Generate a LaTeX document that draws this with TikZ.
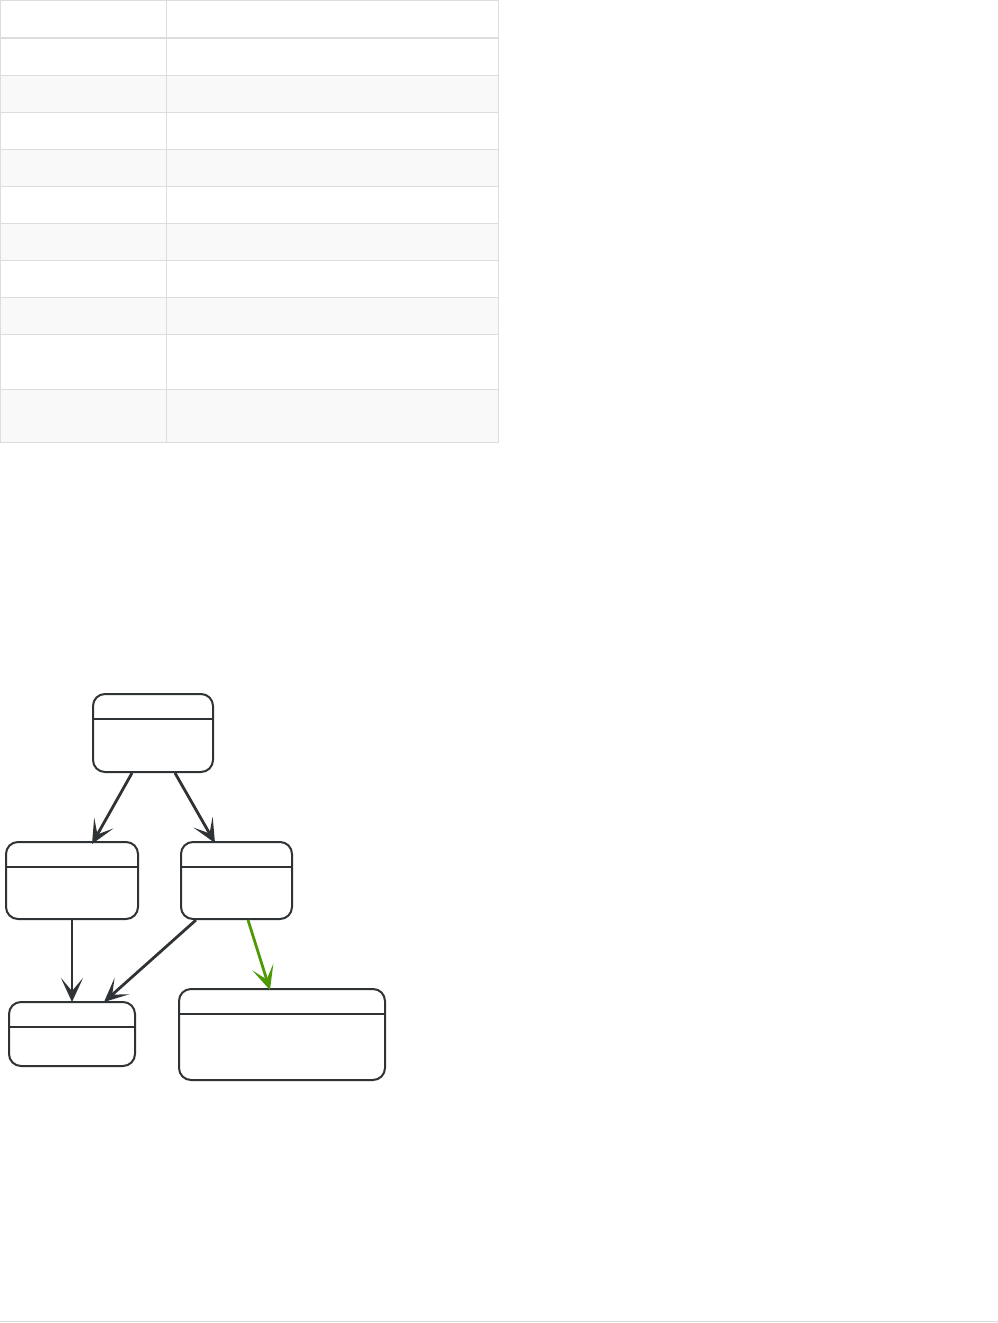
\documentclass[tikz,border=0pt]{standalone}
\usepackage{tikz}
\usetikzlibrary{arrows.meta,positioning}
\definecolor{ink}{HTML}{2F3336}
\definecolor{rule}{HTML}{DDDDDD}
\definecolor{stripe}{HTML}{F9F9F9}
\definecolor{hot}{HTML}{4E9A06}

\begin{document}
\begin{tikzpicture}[x=1pt,y=-1pt,
 statebox/.style={draw=ink,line width=2pt,rounded corners=12pt,fill=white,
  path picture={\draw[ink,line width=2pt]
   ([yshift=-24.5pt]path picture bounding box.north west) -- ++(400pt,0);}},
 flowarrow/.style={draw=#1,line width=2.8pt,
  -{Stealth[length=24pt,width=22pt,inset=13pt]}},
 flowarrow/.default=ink]
\useasboundingbox (0,0) rectangle (998,1323);
% table
\foreach \ya/\yb in {75/112,149/186,223/260,297/334,389/443}
 \fill[stripe] (0,\ya) rectangle (499,\yb);
\foreach \y in {75,112,149,186,223,260,297,334,389}
 \draw[rule,line width=1pt] (0,\y) -- (499,\y);
\draw[rule,line width=2.5pt] (0,38) -- (499,38);
\draw[rule,line width=1pt] (0.5,0.5) rectangle (498.5,442.5);
\draw[rule,line width=1pt] (166,0) -- (166,443);
\draw[rule,line width=1pt] (0,1321) -- (998,1321);
% states
\node[statebox,minimum width=120pt,minimum height=78pt] (A) at (153,733) {};
\node[statebox,minimum width=132pt,minimum height=77pt] (B) at (72,880.5) {};
\node[statebox,minimum width=111pt,minimum height=77pt] (C) at (236.5,880.5) {};
\node[statebox,minimum width=126pt,minimum height=64pt] (D) at (72,1034) {};
\node[statebox,minimum width=206pt,minimum height=91pt] (E) at (282,1034.5) {};
\draw[flowarrow] ([xshift=-21pt]A.south) -- ([xshift=20pt,yshift=-3pt]B.north);
\draw[flowarrow] ([xshift=22pt]A.south) -- ([xshift=-21.5pt,yshift=-2pt]C.north);
\draw[flowarrow] (B.south) -- ([yshift=-1pt]D.north);
\draw[flowarrow] ([xshift=-40.5pt]C.south) -- ([xshift=32pt,yshift=-1pt]D.north);
\draw[flowarrow=hot] ([xshift=11.5pt]C.south) -- ([xshift=-12pt,yshift=-2pt]E.north);
\end{tikzpicture}
\end{document}
